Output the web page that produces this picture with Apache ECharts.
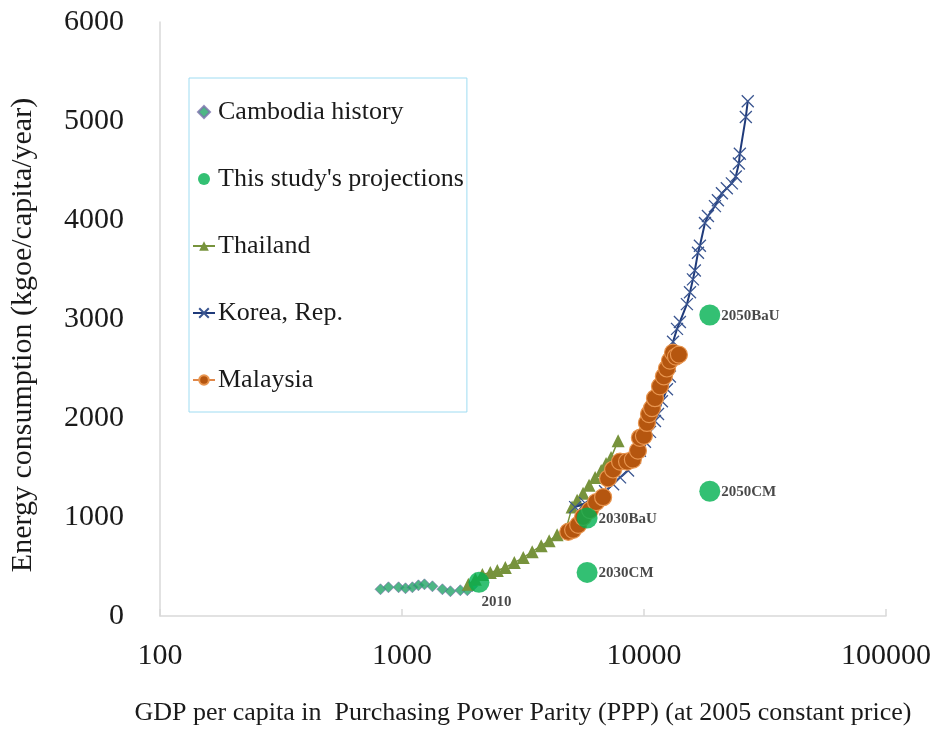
<!DOCTYPE html>
<html>
<head>
<meta charset="utf-8">
<script src="https://cdn.jsdelivr.net/npm/echarts@6/dist/echarts.min.js"></script>
<style>
  html, body { margin: 0; padding: 0; background: #fff; }
  #chart { width: 935px; height: 731px; }
</style>
</head>
<body>
<div id="chart"></div>
<script>
// GDP per capita (PPP, 2005 constant price) vs. energy consumption (kgoe/capita/year)

const xTicks = [100, 1000, 10000, 100000];
const yTicks = [0, 1000, 2000, 3000, 4000, 5000, 6000];

const cambodiaGdp = [815, 879, 968, 1034, 1104, 1169, 1238, 1336, 1469, 1585, 1742, 1862, 1951];
const cambodiaEnergy = [270, 290, 290, 280, 290, 310, 320, 300, 270, 250, 260, 260, 300];

const projectionLabels = ['2010', '2030BaU', '2030CM', '2050BaU', '2050CM'];
const projectionGdp = [2080, 5820, 5820, 18700, 18700];
const projectionEnergy = [340, 990, 440, 3040, 1260];

const thailandGdp = [1880, 2010, 2148, 2317, 2477, 2673, 2911, 3170, 3452, 3760, 4056, 4375, 4766,
  5045, 5292, 5600, 5929, 6281, 6653, 6969, 7311, 7816];
const thailandEnergy = [320, 370, 420, 440, 460, 490, 540, 590, 650, 710, 760, 820, 880,
  1100, 1170, 1240, 1320, 1400, 1470, 1540, 1600, 1770];

const koreaGdp = [5194, 5712, 6904, 7453, 7962, 8590, 9169, 9616, 10092, 10589, 11099, 11427, 11858,
  12444, 12793, 13000, 13183, 13690, 14071, 15040, 15490, 15930, 16220, 16710, 17020, 17860, 18370,
  19640, 20200, 20990, 21990, 23070, 23950, 24660, 24890, 26350, 26840];
const koreaEnergy = [1100, 1140, 1260, 1330, 1400, 1470, 1600, 1670, 1760, 1860, 1970, 2040, 2170,
  2290, 2420, 2600, 2770, 2900, 2970, 3150, 3270, 3400, 3490, 3670, 3740, 3970, 4040,
  4140, 4200, 4270, 4320, 4370, 4440, 4570, 4670, 5040, 5200];

const malaysiaGdp = [4862, 5094, 5346, 5600, 5984, 6339, 6776, 7102, 7453, 7962, 8511, 8995, 9440,
  9616, 9990, 10280, 10490, 10790, 11100, 11640, 12080, 12440, 12800, 13180, 13550, 13940];
const malaysiaEnergy = [850, 870, 920, 1000, 1070, 1150, 1200, 1390, 1480, 1560, 1560, 1580, 1670,
  1800, 1820, 1950, 2040, 2100, 2200, 2320, 2420, 2500, 2580, 2660, 2620, 2640];

const zip = (xs, ys) => xs.map((x, i) => [x, ys[i]]);

const serif = '"Liberation Serif", "DejaVu Serif", serif';
const crossPath = 'path://M0,0L10,10M10,0L0,10';
const diamondPath = 'path://M5,0L10,5L5,10L0,5Z';

const chart = echarts.init(document.getElementById('chart'), null, { renderer: 'canvas' });

chart.setOption({
  animation: false,
  backgroundColor: '#ffffff',
  grid: { left: 159, right: 49, top: 22, bottom: 109, containLabel: false },
  legend: {
    orient: 'vertical',
    left: 189,
    top: 78,
    padding: [21, 3, 19, 3],
    itemGap: 41,
    itemWidth: 22,
    itemHeight: 12,
    symbolKeepAspect: true,
    borderColor: '#9fdcf2',
    borderWidth: 1,
    backgroundColor: '#ffffff',
    textStyle: { fontFamily: serif, fontSize: 26, color: '#1a1a1a', padding: [0, 0, 0, -2] },
    data: [
      { name: 'Cambodia history', icon: diamondPath },
      { name: "This study's projections", icon: 'circle' },
      'Thailand',
      'Korea, Rep.',
      'Malaysia'
    ]
  },
  xAxis: {
    type: 'log',
    logBase: 10,
    min: xTicks[0],
    max: xTicks[xTicks.length - 1],
    name: 'GDP per capita in  Purchasing Power Parity (PPP) (at 2005 constant price)',
    nameLocation: 'middle',
    nameGap: 84,
    nameTextStyle: { fontFamily: serif, fontSize: 26, color: '#1a1a1a' },
    axisLine: { show: true, lineStyle: { color: '#d9d9d9', width: 1.5 } },
    axisTick: { show: true, inside: true, length: 7, lineStyle: { color: '#d9d9d9', width: 1.5 } },
    axisLabel: { fontFamily: serif, fontSize: 30, color: '#1a1a1a', margin: 25, formatter: v => String(v) },
    splitLine: { show: false },
    minorTick: { show: false }
  },
  yAxis: {
    type: 'value',
    min: yTicks[0],
    max: yTicks[yTicks.length - 1],
    interval: 1000,
    name: 'Energy consumption (kgoe/capita/year)',
    nameLocation: 'middle',
    nameGap: 122,
    nameRotate: 90,
    nameTextStyle: { fontFamily: serif, fontSize: 30, color: '#1a1a1a', padding: [0, 32, 0, 0] },
    axisLine: { show: true, lineStyle: { color: '#d9d9d9', width: 1.5 } },
    axisTick: { show: false },
    axisLabel: { fontFamily: serif, fontSize: 30, color: '#1a1a1a', margin: 36, formatter: v => String(v) },
    splitLine: { show: false }
  },
  series: [
    {
      name: 'Cambodia history',
      type: 'scatter',
      data: zip(cambodiaGdp, cambodiaEnergy),
      symbol: 'diamond',
      symbolSize: 11,
      itemStyle: { color: '#22a466', borderColor: '#7a72ad', borderWidth: 0.8 },
      z: 2
    },
    {
      name: 'Thailand',
      type: 'line',
      data: zip(thailandGdp, thailandEnergy),
      symbol: 'triangle',
      symbolSize: 13,
      showAllSymbol: true,
      lineStyle: { color: '#77933c', width: 1.5 },
      itemStyle: { color: '#77933c', borderWidth: 0 },
      z: 3
    },
    {
      name: 'Korea, Rep.',
      type: 'line',
      data: zip(koreaGdp, koreaEnergy),
      symbol: crossPath,
      symbolSize: 12,
      showAllSymbol: true,
      lineStyle: { color: '#1f3a7a', width: 2 },
      itemStyle: { color: 'rgba(0,0,0,0)', borderColor: '#3a5590', borderWidth: 1.3 },
      z: 4
    },
    {
      name: 'Malaysia',
      type: 'line',
      data: zip(malaysiaGdp, malaysiaEnergy),
      symbol: 'circle',
      symbolSize: 17,
      showAllSymbol: true,
      lineStyle: { color: '#e0884a', width: 1.5 },
      itemStyle: { color: '#b5560f', borderColor: '#e8954f', borderWidth: 1.2 },
      z: 5
    },
    {
      name: "This study's projections",
      type: 'scatter',
      data: projectionGdp.map((g, i) => ({
        value: [g, projectionEnergy[i]],
        name: projectionLabels[i],
        label: i === 0
          ? { position: 'right', offset: [-13, 20] }
          : { position: 'right', offset: [-4, 1] }
      })),
      symbol: 'circle',
      symbolSize: 21,
      itemStyle: { color: '#00b050' },
      label: {
        show: true,
        formatter: p => p.name,
        fontFamily: serif,
        fontWeight: 'bold',
        fontSize: 15,
        color: '#1a1a1a'
      },
      z: 6
    }
  ]
});
</script>
</body>
</html>
